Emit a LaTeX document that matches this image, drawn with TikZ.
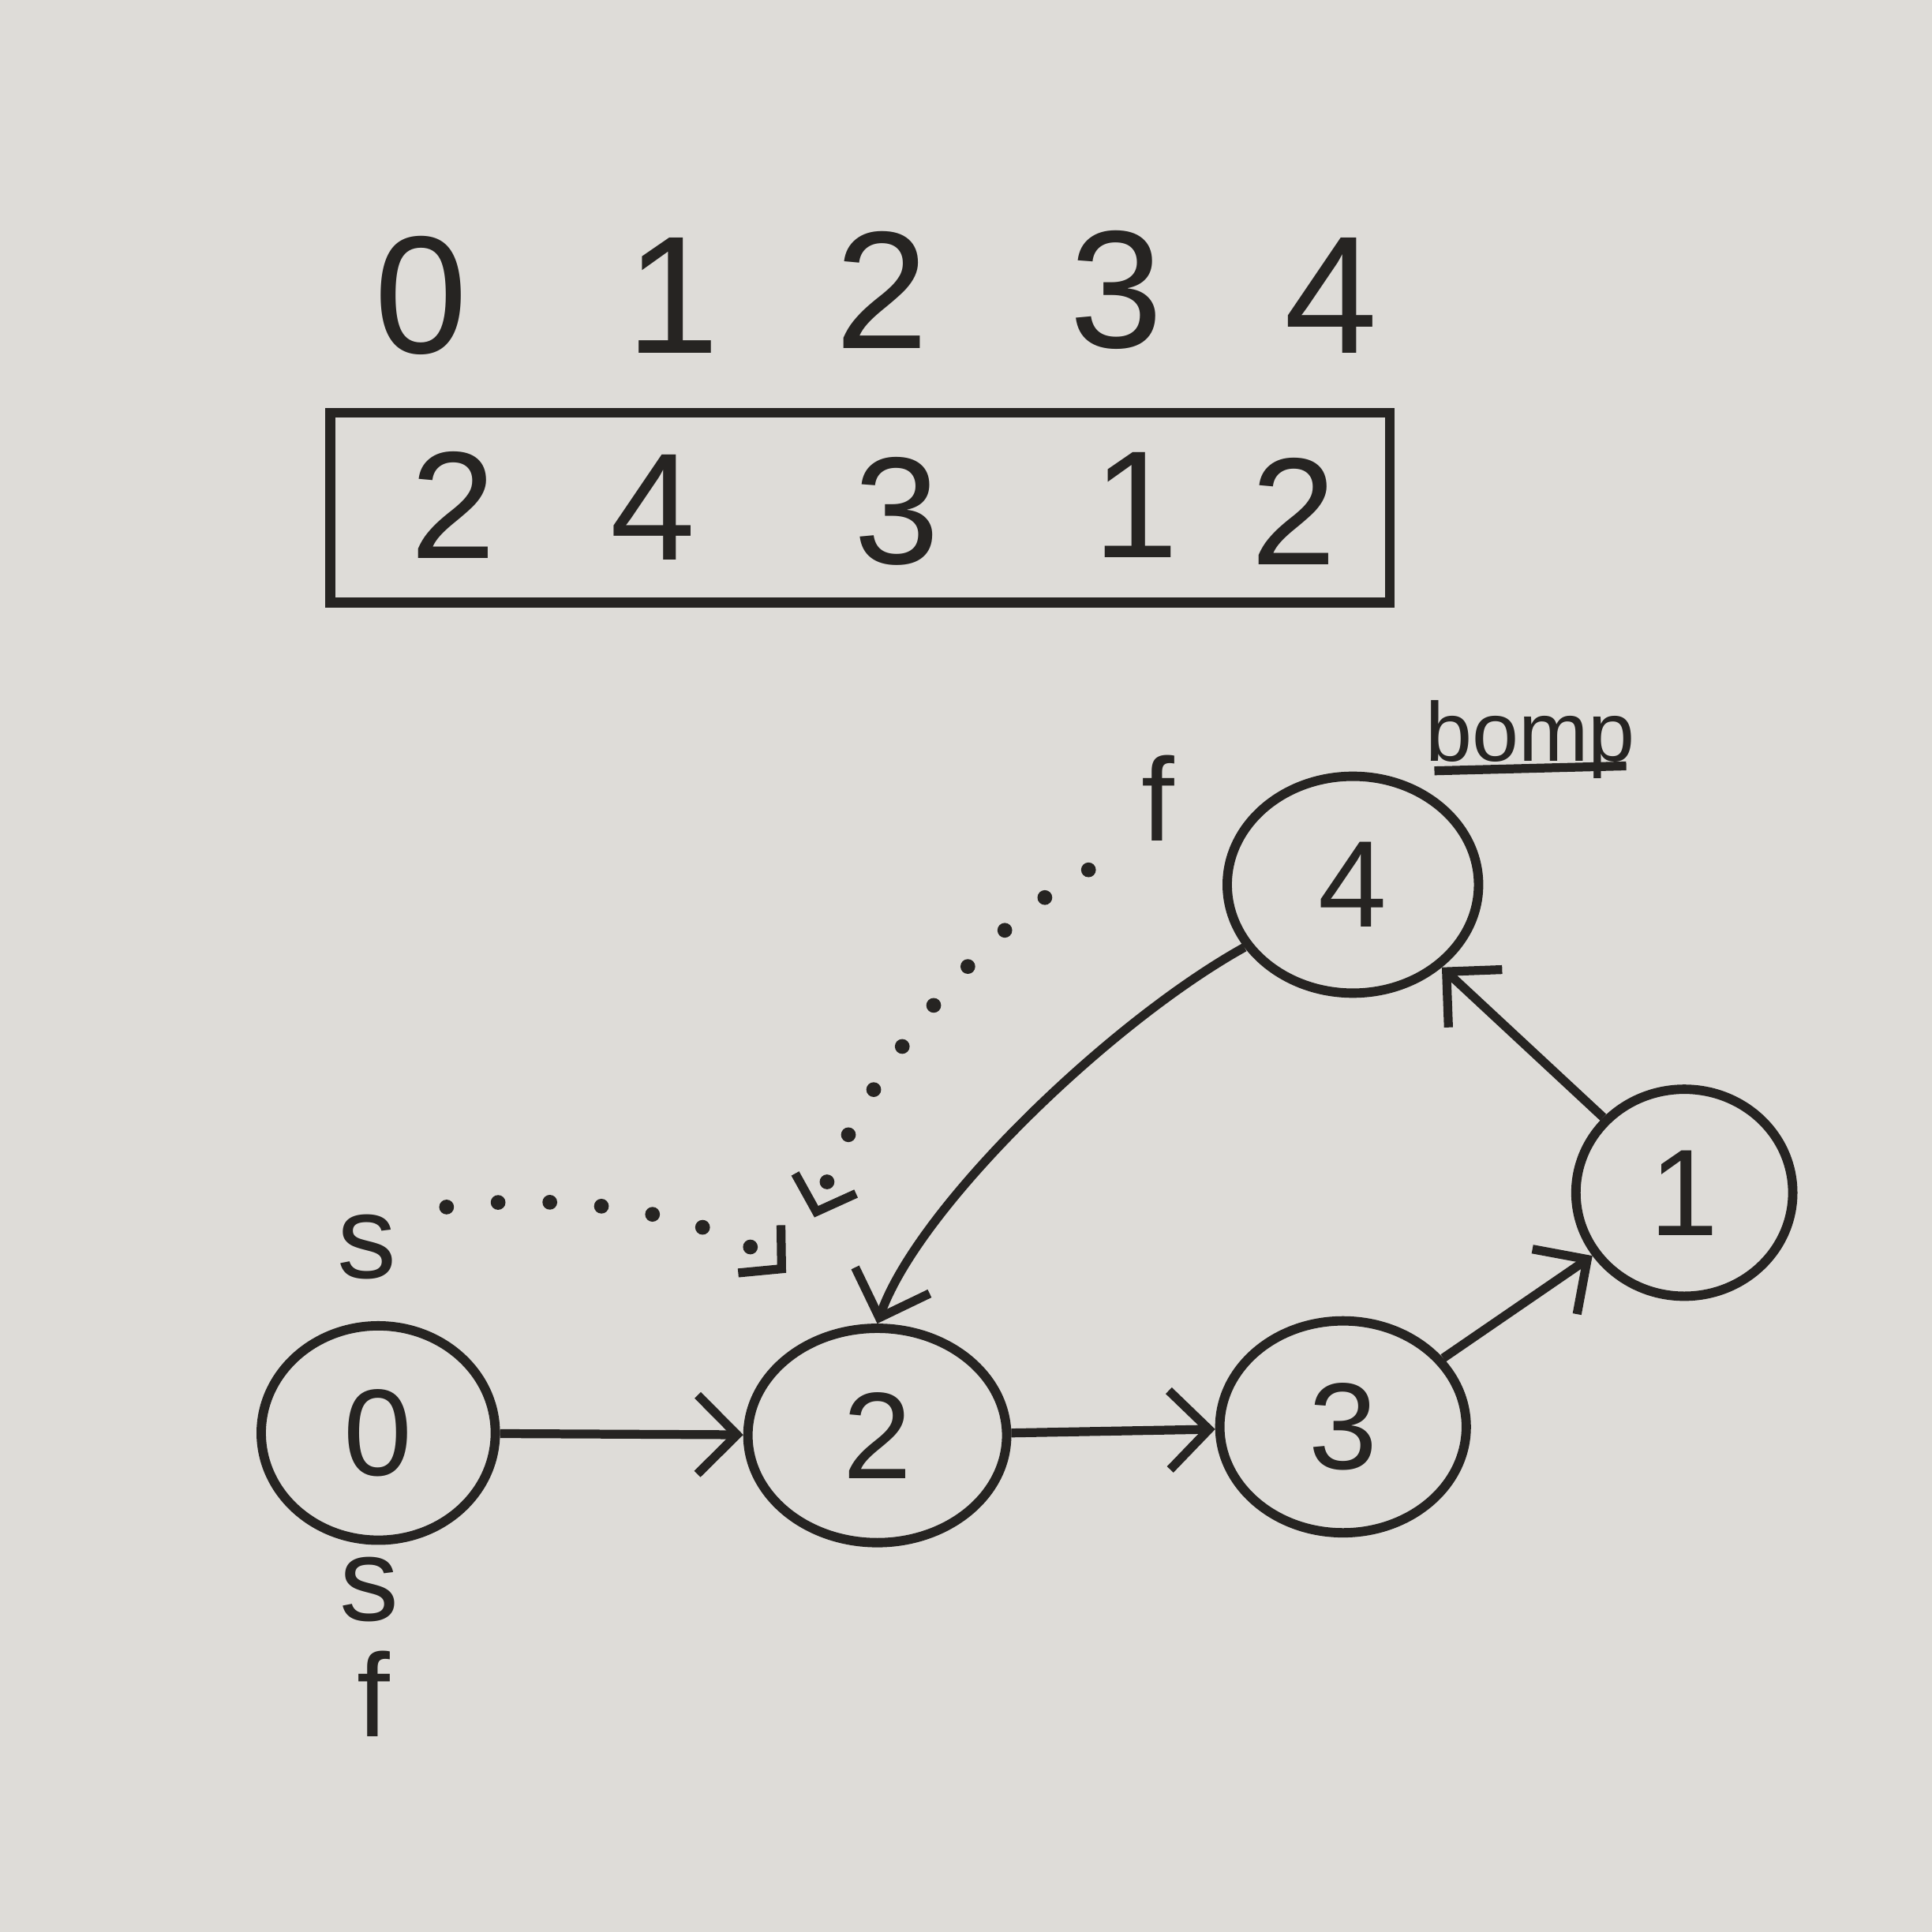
\documentclass[tikz,border=0pt]{standalone}
\usepackage{fontspec}
\setmainfont{Liberation Sans}
\usetikzlibrary{arrows.meta,shapes.geometric}
\definecolor{board}{RGB}{222,220,216}
\definecolor{ink}{RGB}{38,36,34}
\tikzset{
  vertex/.style={draw=ink,line width=1.9pt,ellipse,inner sep=0pt,text=ink,font=\fontsize{25}{25}\selectfont},
  idxlabel/.style={text=ink,font=\fontsize{34}{34}\selectfont},
  cellval/.style={text=ink,font=\fontsize{31}{31}\selectfont},
  note/.style={text=ink,inner sep=0pt,font=\fontsize{24}{24}\selectfont},
  arr/.style={draw=ink,line width=1.8pt,-{Straight Barb[length=8pt,width=16pt]}},
  dots/.style={draw=ink,line width=3pt,line cap=round,dash pattern=on 0pt off 10.5pt,-{Straight Barb[length=6pt,width=13pt,line width=1.8pt]}}
}
\begin{document}
\begin{tikzpicture}[x=0.25pt,y=0.25pt,yscale=-1,xscale=1]
\fill[board] (0,0) rectangle (1568,1568);
\useasboundingbox (0,0) rectangle (1568,1568);
% indices
\draw (342,240) node[idxlabel] (i0) {0};
\draw (546,240) node[idxlabel] (i1) {1};
\draw (716,235) node[idxlabel] (i2) {2};
\draw (906,235) node[idxlabel] (i3) {3};
\draw (1080,240) node[idxlabel] (i4) {4};
% array
\draw (698,412) node[draw=ink,line width=2pt,minimum width=215pt,minimum height=38.5pt] (arr) {};
\draw (368,410) node[cellval] (v0) {2};
\draw (530,412) node[cellval] (v1) {4};
\draw (728,415) node[cellval] (v2) {3};
\draw (922,410) node[cellval] (v3) {1};
\draw (1050,415) node[cellval] (v4) {2};
% graph
\draw (307,1163) node[vertex,minimum width=47.5pt,minimum height=43.5pt] (n0) {0};
\draw (712,1165) node[vertex,minimum width=52.5pt,minimum height=43.5pt] (n2) {2};
\draw (1090,1158) node[vertex,minimum width=50pt,minimum height=43pt] (n3) {3};
\draw (1367,968) node[vertex,minimum width=44pt,minimum height=42pt] (n1) {1};
\draw (1098,718) node[vertex,minimum width=51pt,minimum height=44pt] (n4) {4};
\draw[arr] (n0) -- (n2);
\draw[arr] (n2) -- (n3);
\draw[arr] (n3) -- (n1);
\draw[arr] (n1) -- (n4);
\draw[arr] (n4.210) .. controls (900,830) and (745,980) .. (n2.north);
% s and f markers
\draw (298,1012) node[note] (s1) {s};
\draw (300,1290) node[note] (s2) {s};
\draw (303,1375) node[note] (f2) {f};
\draw (940,648) node[note] (f1) {f};
\draw (1242,600) node[note,font=\fontsize{17}{17}\selectfont] (bomp) {bomp};
\draw[ink,line width=1.8pt] ([xshift=2pt,yshift=2pt]bomp.base west) -- ([xshift=-2pt,yshift=1pt]bomp.base east);
\coordinate (tipa) at (638,1033);
\coordinate (tipb) at (661,988);
\draw[dots,shorten <=10pt] (s1.north east) .. controls (470,965) and (590,990) .. (tipa);
\draw[dots,shorten <=12pt] (f1.south west) .. controls (800,750) and (700,870) .. (tipb);
\end{tikzpicture}
\end{document}
